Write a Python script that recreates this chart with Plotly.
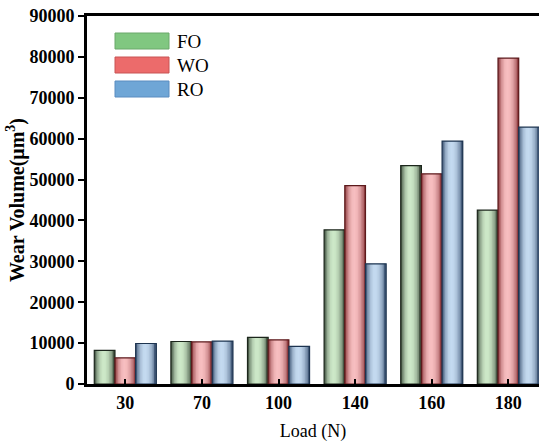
import plotly.graph_objects as go
import math

loads = ["30", "70", "100", "140", "160", "180"]
series_names = ["FO", "WO", "RO"]
fo = [8200, 10400, 11400, 37700, 53400, 42500]
wo = [6400, 10300, 10800, 48500, 51400, 79700]
ro = [9900, 10500, 9200, 29400, 59400, 62800]
y_ticks = [0, 10000, 20000, 30000, 40000, 50000, 60000, 70000, 80000, 90000]

values = [fo, wo, ro]
light = [(205, 232, 200), (247, 190, 192), (196, 218, 240)]
dark = [(25, 38, 25), (110, 20, 25), (25, 48, 82)]
edge = ["#1c261c", "#5c1a1c", "#1d3450"]
legend_col = ["#80c780", "#ec6b6b", "#6fa6d6"]
legend_edge = ["#6aa86a", "#c85555", "#5a8cc0"]

W, H = 539, 442
L, R, T, B = 87, 0, 16, 58

bw = 0.27
group = 3 * bw
nstrip = 14
step = bw / nstrip

def profile(t):
    c = 0.45
    if t <= c:
        u = t / c
    else:
        u = (1 - t) / (1 - c)
    return math.sin(u * math.pi / 2) ** 0.6

def mix(a, b, f):
    return "rgb(%d,%d,%d)" % tuple(round(a[i] * (1 - f) + b[i] * f) for i in range(3))

fig = go.Figure()
for s, vals in enumerate(values):
    base = -group / 2 + s * bw
    for k in range(nstrip):
        t = (k + 0.5) / nstrip
        f = profile(t)
        w = step * 1.6 if k < nstrip - 1 else step
        fig.add_trace(go.Bar(
            x=loads, y=vals, width=w, offset=base + k * step,
            marker=dict(color=mix(dark[s], light[s], f), line=dict(width=0)),
            showlegend=False, hoverinfo="skip"))
    fig.add_trace(go.Bar(
        x=loads, y=vals, width=bw, offset=base, name=series_names[s],
        marker=dict(color="rgba(0,0,0,0)", line=dict(color=edge[s], width=1.2)),
        showlegend=False))

def px2x(px):
    return (px - L) / (W - L - R)

def px2y(py):
    return 1 - (py - T) / (H - T - B)

shapes = []
annotations = []
for i, name in enumerate(series_names):
    y0 = 33 + i * 24
    shapes.append(dict(type="rect", xref="paper", yref="paper",
                       x0=px2x(115), x1=px2x(169), y0=px2y(y0), y1=px2y(y0 + 16),
                       fillcolor=legend_col[i], line=dict(color=legend_edge[i], width=1)))
    annotations.append(dict(text=name, xref="paper", yref="paper",
                            x=px2x(175), y=px2y(y0 + 8), xanchor="left", yanchor="middle",
                            showarrow=False,
                            font=dict(family="Liberation Serif", size=19, color="black")))

fig.update_layout(
    width=W, height=H,
    margin=dict(l=L, r=R, t=T, b=B),
    paper_bgcolor="white", plot_bgcolor="white",
    barmode="overlay",
    showlegend=False,
    shapes=shapes, annotations=annotations,
    xaxis=dict(
        type="category", range=[-0.5, 5.4],
        showline=True, linecolor="black", linewidth=3, mirror=True,
        ticks="inside", ticklen=5, tickwidth=2, tickcolor="black",
        tickfont=dict(family="Liberation Serif", size=18, color="black", weight="bold"),
        title=dict(text="Load (N)", standoff=14,
                   font=dict(family="Liberation Serif", size=18, color="black")),
        showgrid=False, zeroline=False,
    ),
    yaxis=dict(
        range=[0, 90000], tickvals=y_ticks, tickformat="d",
        showline=True, linecolor="black", linewidth=3, mirror=False,
        ticks="outside", ticklen=6, tickwidth=2, tickcolor="black",
        tickfont=dict(family="Liberation Serif", size=18, color="black", weight="bold"),
        title=dict(text="Wear Volume(μm<sup>3</sup>)", standoff=0,
                   font=dict(family="Liberation Serif", size=20, color="black", weight="bold")),
        showgrid=False, zeroline=False,
    ),
)

fig.write_html("out.html")
